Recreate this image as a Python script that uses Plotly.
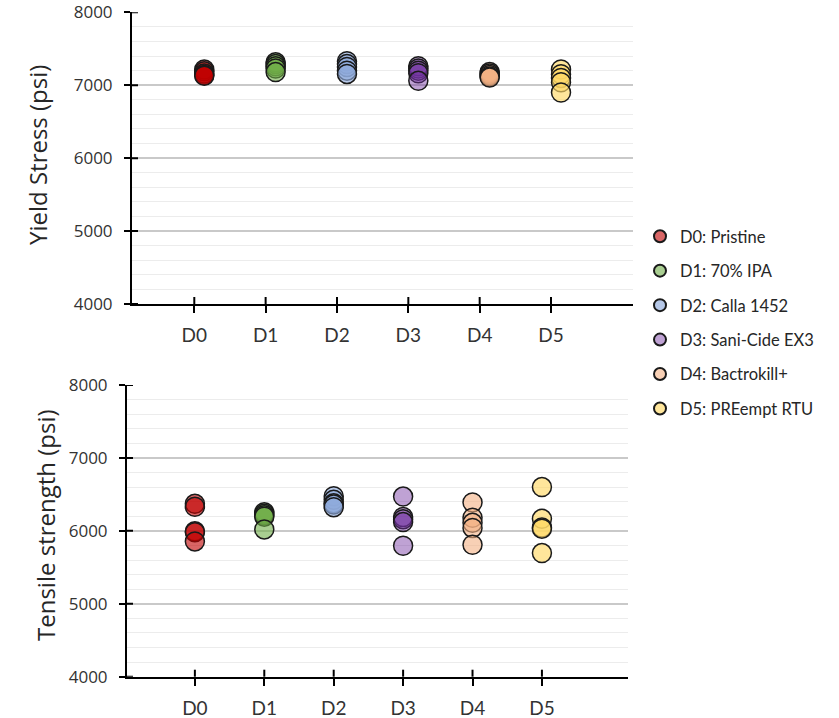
import plotly.graph_objects as go

# Treatment groups
categories = ["D0", "D1", "D2", "D3", "D4", "D5"]
group_names = ["D0: Pristine", "D1: 70% IPA", "D2: Calla 1452",
               "D3: Sani-Cide EX3", "D4: Bactrokill+", "D5: PREempt RTU"]

# Yield stress per specimen (psi)
yield_d0 = [7215, 7190, 7160, 7140, 7130]
yield_d1 = [7315, 7290, 7260, 7230, 7180]
yield_d2 = [7330, 7290, 7250, 7200, 7155]
yield_d3 = [7260, 7230, 7200, 7165, 7060]
yield_d4 = [7180, 7160, 7140, 7120, 7105]
yield_d5 = [7215, 7150, 7100, 7040, 6900]

# Tensile strength per specimen (psi)
tensile_d0 = [6370, 6330, 5995, 5980, 5855]
tensile_d1 = [6255, 6235, 6215, 6195, 6020]
tensile_d2 = [6475, 6425, 6380, 6360, 6325]
tensile_d3 = [6470, 6190, 6160, 6120, 5795]
tensile_d4 = [6390, 6180, 6110, 6040, 5810]
tensile_d5 = [6600, 6165, 6045, 6030, 5695]

stress_ticks = [4000, 5000, 6000, 7000, 8000]

yield_groups = [yield_d0, yield_d1, yield_d2, yield_d3, yield_d4, yield_d5]
tensile_groups = [tensile_d0, tensile_d1, tensile_d2, tensile_d3, tensile_d4, tensile_d5]

fills = ["rgba(192,0,0,0.6)", "rgba(112,173,71,0.6)", "rgba(143,170,220,0.65)",
         "rgba(112,48,160,0.45)", "rgba(244,177,131,0.6)", "rgba(255,217,102,0.65)"]

YIELD_X_SHIFT = 0.14  # yield points sit slightly right of their category tick

fig = go.Figure()

for i, (name, vals, fill) in enumerate(zip(group_names, yield_groups, fills)):
    fig.add_trace(go.Scatter(
        x=[i + YIELD_X_SHIFT] * len(vals), y=vals, mode="markers", name=name,
        legendgroup=name, showlegend=True,
        marker=dict(size=19, color=fill, line=dict(color="#1a1a1a", width=1.5)),
        xaxis="x", yaxis="y"))

for i, (name, vals, fill) in enumerate(zip(group_names, tensile_groups, fills)):
    fig.add_trace(go.Scatter(
        x=[i] * len(vals), y=vals, mode="markers", name=name,
        legendgroup=name, showlegend=False,
        marker=dict(size=19, color=fill, line=dict(color="#1a1a1a", width=1.5)),
        xaxis="x2", yaxis="y2"))

W, H = 839, 718


def xdom(left, right):
    return [left / W, right / W]


def ydom(top, bottom):
    return [1 - bottom / H, 1 - top / H]


tick_font_y = dict(family="Open Sans", size=17, color="#333333")
tick_font_x = dict(family="Lato", size=19, color="#333333")
major_grid = "#c9c9c9"
minor_grid = "#ececec"

yaxis_common = dict(
    range=[4000, 8000], tickvals=stress_ticks, ticktext=[str(t) for t in stress_ticks],
    showline=True, linecolor="black", linewidth=2,
    ticks="outside", ticklen=6, tickwidth=2, tickcolor="black",
    showgrid=True, gridcolor=major_grid, gridwidth=1.5,
    minor=dict(dtick=200, showgrid=True, gridcolor=minor_grid, gridwidth=1.2),
    zeroline=False, tickfont=tick_font_y, ticklabelstandoff=8, automargin=False,
)
xaxis_common = dict(
    tickvals=list(range(len(categories))), ticktext=categories,
    showline=True, linecolor="black", linewidth=2,
    ticks="outside", ticklen=7, tickwidth=2, tickcolor="black",
    showgrid=False, zeroline=False, tickfont=tick_font_x, ticklabelstandoff=6,
    automargin=False,
)

fig.update_layout(
    width=W, height=H, margin=dict(l=0, r=0, t=0, b=0, autoexpand=False),
    paper_bgcolor="white", plot_bgcolor="white",
    xaxis=dict(domain=xdom(132, 633), range=[-0.873, 6.149], anchor="y", **xaxis_common),
    yaxis=dict(domain=ydom(12.3, 304), anchor="x", **yaxis_common),
    xaxis2=dict(domain=xdom(127, 628), range=[-0.978, 6.24], anchor="y2", **xaxis_common),
    yaxis2=dict(domain=ydom(385, 676.7), anchor="x2", **yaxis_common),
    legend=dict(x=640 / W, y=1 - 219 / H, xanchor="left", yanchor="top",
                font=dict(family="Lato", size=16.5, color="#262626"),
                itemsizing="constant", tracegroupgap=10, bgcolor="rgba(0,0,0,0)"),
    showlegend=True,
)

# Inner halves of the tick marks so they cross the axis lines
shapes = []
for xa, ya, plot_w, plot_h in [("x", "y", 501, 291.7), ("x2", "y2", 501, 291.7)]:
    for t in stress_ticks:
        shapes.append(dict(type="line", xref=f"{xa} domain", yref=ya,
                           x0=0, x1=6 / plot_w, y0=t, y1=t,
                           line=dict(color="black", width=2)))
    for i in range(len(categories)):
        shapes.append(dict(type="line", xref=xa, yref=f"{ya} domain",
                           x0=i, x1=i, y0=0, y1=7 / plot_h,
                           line=dict(color="black", width=2)))
fig.update_layout(shapes=shapes)

title_font = dict(family="Open Sans", size=24, color="#262626")
fig.add_annotation(text="Yield Stress (psi)", textangle=-90, xref="paper", yref="paper",
                   x=38 / W, y=1 - 155 / H, xanchor="center", yanchor="middle",
                   showarrow=False, font=title_font)
fig.add_annotation(text="Tensile strength (psi)", textangle=-90, xref="paper", yref="paper",
                   x=45 / W, y=1 - 525 / H, xanchor="center", yanchor="middle",
                   showarrow=False, font=title_font)

fig.write_html("out.html")
